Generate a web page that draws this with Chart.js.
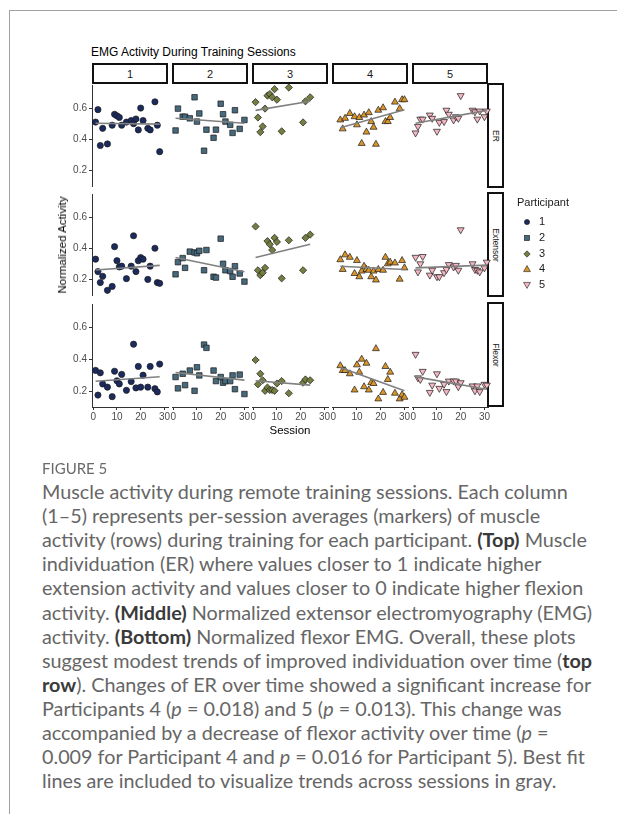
<!DOCTYPE html>
<html>
<head>
<meta charset="utf-8">
<script src="https://cdn.jsdelivr.net/npm/chart.js@4.4.1/dist/chart.umd.min.js"></script>
<style>
  body { margin: 0; background: #fff; width: 617px; height: 814px; position: relative; overflow: hidden;
         font-family: "Liberation Sans", Arial, sans-serif; }
  .frame { position: absolute; left: 9px; top: 10px; width: 700px; height: 900px;
           border-left: 1px solid #a0a0a0; border-top: 1px solid #a0a0a0; }
  .abs { position: absolute; white-space: nowrap; }
  .strip { position: absolute; border: 2px solid #111; box-sizing: border-box; background: #fff;
           display: flex; align-items: center; justify-content: center; font-size: 11px; color: #1a1a1a; }
  .vtext { transform: rotate(90deg); font-size: 8.5px; white-space: nowrap; }
  canvas { position: absolute; }
  .leg { position: absolute; font-size: 11px; color: #1a1a1a; }
  .cap { position: absolute; left: 42px; font-family: Lato, "Open Sans", sans-serif; font-size: 19.8px;
         font-weight: 400; color: #666; white-space: nowrap; line-height: 20px; }
  .cap b { color: #3a3a3a; font-weight: 700; }
</style>
</head>
<body>
<div class="frame"></div>
<div class="abs" style="left:91px;top:45px;font-size:12px;color:#000;">EMG Activity During Training Sessions</div>
<div id="plot"></div>
<div class="abs" style="left:290px;top:424px;font-size:11.5px;color:#000;transform:translateX(-50%);">Session</div>
<div class="abs" style="left:62px;top:245px;font-size:11.5px;color:#000;transform:translate(-50%,-50%) rotate(-90deg);">Normalized Activity</div>
<div id="legend"></div>
<div id="caption"></div>

<script>
// sessions per participant (x)
const sessionsP1 = [1, 2, 3, 4, 6, 8, 9, 10, 11, 12, 14, 16, 17, 18, 19, 20, 21, 23, 24, 26, 27, 28];
const sessionsP2 = [1, 2, 4, 5, 7, 9, 10, 11, 13, 14, 17, 18, 20, 21, 22, 24, 25, 26, 28, 30];
const sessionsP3 = [1, 2, 3, 4, 5, 6, 7, 8, 9, 10, 12, 15, 21, 22, 24];
const sessionsP4 = [3, 4, 5, 7, 9, 10, 11, 12, 13, 14, 15, 16, 17, 18, 19, 21, 22, 23, 24, 26, 28, 29, 30];
const sessionsP5 = [1, 2, 3, 4, 7, 8, 10, 11, 13, 14, 15, 17, 18, 19, 20, 25, 26, 27, 28, 30, 31];

// ER row
const erP1 = [0.51, 0.59, 0.36, 0.47, 0.37, 0.49, 0.56, 0.55, 0.54, 0.49, 0.51, 0.52, 0.50, 0.53, 0.46, 0.60, 0.52, 0.47, 0.46, 0.64, 0.49, 0.32];
const erP2 = [0.455, 0.59, 0.54, 0.54, 0.53, 0.66, 0.51, 0.56, 0.33, 0.46, 0.41, 0.46, 0.62, 0.555, 0.51, 0.49, 0.44, 0.58, 0.465, 0.52];
const erP3 = [0.63, 0.535, 0.445, 0.48, 0.59, 0.67, 0.68, 0.66, 0.71, 0.645, 0.45, 0.72, 0.505, 0.635, 0.66];
const erP4 = [0.52, 0.465, 0.53, 0.56, 0.54, 0.49, 0.535, 0.375, 0.55, 0.445, 0.565, 0.51, 0.475, 0.37, 0.58, 0.595, 0.51, 0.51, 0.535, 0.63, 0.59, 0.645, 0.645];
const erP5 = [0.44, 0.48, 0.525, 0.525, 0.55, 0.53, 0.45, 0.505, 0.51, 0.58, 0.555, 0.52, 0.54, 0.53, 0.67, 0.58, 0.57, 0.525, 0.575, 0.54, 0.575];

// Extensor row
const extP1 = [0.33, 0.25, 0.18, 0.22, 0.13, 0.155, 0.41, 0.32, 0.28, 0.285, 0.205, 0.285, 0.48, 0.25, 0.32, 0.34, 0.33, 0.20, 0.285, 0.40, 0.18, 0.175];
const extP2 = [0.24, 0.315, 0.34, 0.28, 0.38, 0.375, 0.37, 0.385, 0.265, 0.39, 0.225, 0.22, 0.46, 0.305, 0.265, 0.26, 0.225, 0.29, 0.245, 0.195];
const extP3 = [0.535, 0.265, 0.235, 0.25, 0.28, 0.445, 0.425, 0.39, 0.465, 0.44, 0.215, 0.45, 0.265, 0.465, 0.485];
const extP4 = [0.33, 0.27, 0.36, 0.345, 0.245, 0.325, 0.225, 0.26, 0.29, 0.27, 0.265, 0.225, 0.26, 0.205, 0.27, 0.265, 0.345, 0.305, 0.315, 0.31, 0.21, 0.325, 0.28];
const extP5 = [0.345, 0.255, 0.305, 0.35, 0.235, 0.265, 0.225, 0.225, 0.25, 0.27, 0.30, 0.285, 0.295, 0.265, 0.515, 0.305, 0.27, 0.265, 0.255, 0.28, 0.315];

// Flexor row
const flexP1 = [0.33, 0.175, 0.315, 0.245, 0.225, 0.165, 0.325, 0.265, 0.245, 0.305, 0.205, 0.26, 0.495, 0.22, 0.355, 0.225, 0.30, 0.225, 0.355, 0.215, 0.195, 0.37];
const flexP2 = [0.285, 0.215, 0.305, 0.235, 0.325, 0.20, 0.345, 0.295, 0.485, 0.465, 0.325, 0.26, 0.285, 0.25, 0.26, 0.26, 0.295, 0.21, 0.30, 0.18];
const flexP3 = [0.39, 0.24, 0.305, 0.265, 0.20, 0.22, 0.205, 0.205, 0.20, 0.245, 0.26, 0.185, 0.25, 0.27, 0.265];
const flexP4 = [0.355, 0.325, 0.325, 0.305, 0.205, 0.36, 0.315, 0.395, 0.225, 0.37, 0.205, 0.25, 0.245, 0.46, 0.15, 0.19, 0.35, 0.27, 0.315, 0.185, 0.15, 0.175, 0.16];
const flexP5 = [0.425, 0.28, 0.27, 0.32, 0.19, 0.235, 0.305, 0.215, 0.24, 0.195, 0.26, 0.26, 0.26, 0.225, 0.25, 0.23, 0.20, 0.23, 0.195, 0.24, 0.235];

// best fit lines: value at first and last session, per participant
const erFitStart = [0.503, 0.53, 0.579, 0.472, 0.50];
const erFitEnd = [0.497, 0.50, 0.635, 0.583, 0.579];
const extFitStart = [0.26, 0.344, 0.344, 0.29, 0.28];
const extFitEnd = [0.29, 0.256, 0.426, 0.27, 0.297];
const flexFitStart = [0.262, 0.313, 0.262, 0.344, 0.286];
const flexFitEnd = [0.29, 0.266, 0.235, 0.20, 0.21];

const participants = ['1', '2', '3', '4', '5'];
const muscleRows = ['ER', 'Extensor', 'Flexor'];
const xTicks = [0, 10, 20, 30];
const yTicks = [0.2, 0.4, 0.6];

const colors = ['#1c2b5e', '#46697c', '#737f40', '#d8952c', '#f5b7c2'];
const shapes = ['circle', 'rect', 'rectRot', 'triangle', 'triangle'];
const rotations = [0, 0, 0, 0, 180];
const radii = [3.1, 3.9, 3.6, 4.0, 4.0];

const sessions = [sessionsP1, sessionsP2, sessionsP3, sessionsP4, sessionsP5];
const values = [[erP1, erP2, erP3, erP4, erP5], [extP1, extP2, extP3, extP4, extP5], [flexP1, flexP2, flexP3, flexP4, flexP5]];
const fitStart = [erFitStart, extFitStart, flexFitStart];
const fitEnd = [erFitEnd, extFitEnd, flexFitEnd];

Chart.defaults.font.family = '"Liberation Sans", Arial, sans-serif';

const colLeft = [92, 172, 252, 332, 412];
const rowTop = [83, 192, 302];
const panelW = 76, panelH = 105;
const PAD = 6, YAXIS_W = 30, XAXIS_H = 22;
const plot = document.getElementById('plot');

// strips
participants.forEach((p, c) => {
  const d = document.createElement('div');
  d.className = 'strip';
  Object.assign(d.style, { left: colLeft[c] + 'px', top: '63px', width: panelW + 'px', height: '21px' });
  d.textContent = p;
  plot.appendChild(d);
});
muscleRows.forEach((m, r) => {
  const d = document.createElement('div');
  d.className = 'strip';
  Object.assign(d.style, { left: '487px', top: rowTop[r] + 'px', width: '17px', height: panelH + 'px' });
  d.innerHTML = '<span class="vtext">' + m + '</span>';
  plot.appendChild(d);
});

for (let r = 0; r < 3; r++) {
  for (let c = 0; c < 5; c++) {
    const xs = sessions[c];
    const ys = values[r][c];
    const showX = r === 2, showY = c === 0;
    const left = colLeft[c] - PAD - (showY ? YAXIS_W : 0);
    const top = rowTop[r] - PAD;
    const w = panelW + 2 * PAD + (showY ? YAXIS_W : 0);
    const h = panelH + 2 * PAD + (showX ? XAXIS_H : 0);
    const cv = document.createElement('canvas');
    cv.width = w; cv.height = h;
    cv.style.left = left + 'px'; cv.style.top = top + 'px';
    cv.style.width = w + 'px'; cv.style.height = h + 'px';
    plot.appendChild(cv);

    new Chart(cv, {
      type: 'scatter',
      data: {
        datasets: [
          {
            type: 'line',
            data: [{ x: Math.min(...xs), y: fitStart[r][c] }, { x: Math.max(...xs), y: fitEnd[r][c] }],
            borderColor: '#808080', borderWidth: 1.6, pointRadius: 0, clip: false, order: 0
          },
          {
            data: xs.map((x, i) => ({ x: x, y: ys[i] })),
            pointStyle: shapes[c], rotation: rotations[c], pointRadius: radii[c],
            backgroundColor: colors[c], borderColor: '#1a1a1a', borderWidth: 0.7,
            clip: false, order: 1
          }
        ]
      },
      options: {
        responsive: false, animation: false, devicePixelRatio: 1, events: [],
        layout: { padding: PAD },
        plugins: { legend: { display: false }, tooltip: { enabled: false } },
        scales: {
          x: {
            type: 'linear', min: -0.5, max: 31.5, display: showX,
            afterBuildTicks: s => { s.ticks = xTicks.map(v => ({ value: v })); },
            afterFit: s => { if (showX) s.height = XAXIS_H; },
            grid: { display: true, drawOnChartArea: false, tickLength: 3, color: '#333' },
            border: { display: true, color: '#333', width: 1 },
            ticks: { color: '#4d4d4d', font: { size: 10 }, padding: 1, maxRotation: 0, autoSkip: false,
                     callback: v => String(v) }
          },
          y: {
            type: 'linear', min: 0.1, max: 0.748, display: showY,
            afterBuildTicks: s => { s.ticks = yTicks.map(v => ({ value: v })); },
            afterFit: s => { if (showY) s.width = YAXIS_W; },
            grid: { display: true, drawOnChartArea: false, tickLength: 3, color: '#333' },
            border: { display: true, color: '#333', width: 1 },
            ticks: { color: '#4d4d4d', font: { size: 10 }, padding: 2, callback: v => v.toFixed(1) }
          }
        }
      }
    });
  }
}

// legend
const legend = document.getElementById('legend');
legend.innerHTML = '<div class="leg" style="left:517px;top:196px;">Participant</div>';
const markerSvg = [
  '<circle cx="5" cy="5" r="2.6"/>',
  '<rect x="2.4" y="2.4" width="5.2" height="5.2"/>',
  '<polygon points="5,1.8 8.2,5 5,8.2 1.8,5"/>',
  '<polygon points="5,1.6 8.4,7.6 1.6,7.6"/>',
  '<polygon points="5,8.4 8.4,2.4 1.6,2.4"/>'
];
participants.forEach((p, i) => {
  const y = 222 + i * 15.8;
  legend.innerHTML += '<svg class="leg" style="left:522px;top:' + (y - 5) + 'px" width="10" height="10">' +
    markerSvg[i].replace('/>', ' fill="' + colors[i] + '" stroke="#1a1a1a" stroke-width="0.6"/>') + '</svg>' +
    '<div class="leg" style="left:539px;top:' + (y - 7) + 'px;">' + p + '</div>';
});

// caption
const captionLines = [
  'Muscle activity during remote training sessions. Each column',
  '(1\u20135) represents per-session averages (markers) of muscle',
  'activity (rows) during training for each participant. <b>(Top)</b> Muscle',
  'individuation (ER) where values closer to 1 indicate higher',
  'extension activity and values closer to 0 indicate higher flexion',
  'activity. <b>(Middle)</b> Normalized extensor electromyography (EMG)',
  'activity. <b>(Bottom)</b> Normalized flexor EMG. Overall, these plots',
  'suggest modest trends of improved individuation over time (<b>top</b>',
  '<b>row</b>). Changes of ER over time showed a significant increase for',
  'Participants 4 (<i>p</i> = 0.018) and 5 (<i>p</i> = 0.013). This change was',
  'accompanied by a decrease of flexor activity over time (<i>p</i> =',
  '0.009 for Participant 4 and <i>p</i> = 0.016 for Participant 5). Best fit',
  'lines are included to visualize trends across sessions in gray.'
];
const cap = document.getElementById('caption');
let html = '<div class="cap" style="top:458px;font-size:15px;color:#6a6a6a;">FIGURE 5</div>';
captionLines.forEach((t, i) => {
  html += '<div class="cap" style="top:' + (481 + i * 24.1) + 'px;">' + t + '</div>';
});
cap.innerHTML = html;
</script>
</body>
</html>
